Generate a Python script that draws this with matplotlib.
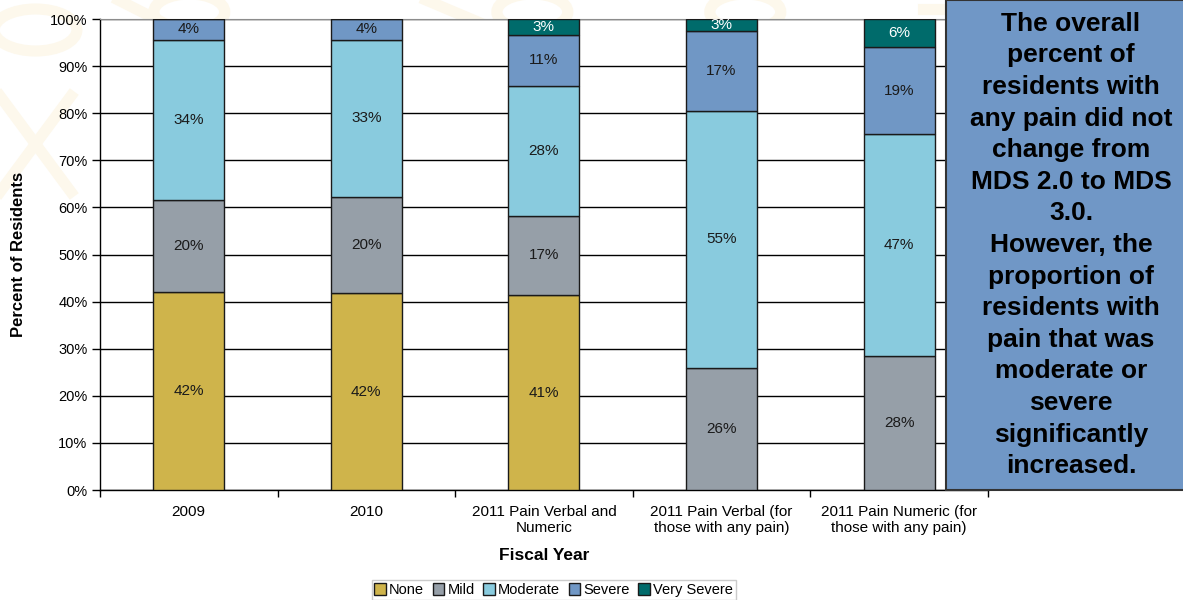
import matplotlib
matplotlib.use("Agg")
import matplotlib.pyplot as plt
from matplotlib.patches import Circle
from matplotlib.lines import Line2D
import numpy as np

plt.rcParams["font.family"] = ["Liberation Sans", "DejaVu Sans"]

categories = [
    "2009",
    "2010",
    "2011 Pain Verbal and\nNumeric",
    "2011 Pain Verbal (for\nthose with any pain)",
    "2011 Pain Numeric (for\nthose with any pain)",
]
levels = ["None", "Mild", "Moderate", "Severe", "Very Severe"]

none_pct = [42.0, 41.8, 41.4, 0.0, 0.0]
mild_pct = [19.6, 20.4, 16.8, 25.9, 28.4]
moderate_pct = [34.0, 33.4, 27.6, 54.6, 47.1]
severe_pct = [4.4, 4.4, 10.9, 16.9, 18.6]
very_severe_pct = [0.0, 0.0, 3.3, 2.6, 5.9]

colors = ["#CFB44B", "#969FA8", "#89CBDE", "#7097C5", "#006B6B"]
label_colors = ["#1a1a1a", "#1a1a1a", "#1a1a1a", "#1a1a1a", "white"]

note = ("The overall\npercent of\nresidents with\nany pain did not\nchange from\n"
        "MDS 2.0 to MDS\n3.0.\nHowever, the\nproportion of\nresidents with\n"
        "pain that was\nmoderate or\nsevere\nsignificantly\nincreased.")

series = [none_pct, mild_pct, moderate_pct, severe_pct, very_severe_pct]

fig = plt.figure(figsize=(11.83, 6.0), dpi=100)
fig.patch.set_facecolor("white")

# faint decorative pattern in the page background
wm = "#FDF8EC"
for cx, cy, r in [(0.03, 0.95, 0.035), (0.16, 0.98, 0.03), (0.45, 0.98, 0.03),
                  (0.63, 0.98, 0.03)]:
    fig.add_artist(Circle((cx, cy), r, transform=fig.transFigure, fill=False,
                          edgecolor=wm, linewidth=8, zorder=0))
for x0, y0, x1, y1 in [(0.0, 0.68, 0.06, 0.84), (0.0, 0.84, 0.06, 0.68),
                       (0.10, 1.0, 0.20, 0.90), (0.36, 1.0, 0.42, 0.95),
                       (0.84, 1.0, 0.90, 0.97), (0.78, 0.985, 0.84, 0.985)]:
    fig.add_artist(Line2D([x0, x1], [y0, y1], transform=fig.transFigure,
                          color=wm, linewidth=8, zorder=0))

ax = fig.add_axes([0.0845, 0.1833, 0.7505, 0.785])
ax.set_facecolor("white")
ax.set_zorder(1)

x = np.arange(len(categories))
bottom = np.zeros(len(categories))
for vals, col, tcol, name in zip(series, colors, label_colors, levels):
    vals = np.array(vals)
    ax.bar(x, vals, bottom=bottom, width=0.4, color=col, edgecolor="#1a1a1a",
           linewidth=1.0, label=name, zorder=3)
    for xi, v, b in zip(x, vals, bottom):
        if v > 0:
            ax.text(xi, b + v / 2, f"{v:.0f}%", ha="center", va="center",
                    fontsize=11, color=tcol, zorder=4)
    bottom += vals

ax.set_xlim(-0.5, len(categories) - 0.5)
ax.set_ylim(0, 100)
ax.set_yticks(np.arange(0, 101, 10))
ax.set_yticklabels([f"{v}%" for v in range(0, 101, 10)], fontsize=10.5)
ax.yaxis.grid(True, color="black", linewidth=1.0)
ax.set_axisbelow(True)

ax.set_xticks(x)
ax.set_xticklabels(categories, fontsize=11)
ax.set_xticks(np.arange(-0.5, len(categories)), minor=True)
ax.tick_params(axis="x", which="major", length=0, pad=11)
ax.tick_params(axis="x", which="minor", length=5, width=1, direction="out")
ax.tick_params(axis="y", length=6, width=1, direction="out", pad=3)

for side in ["left", "bottom"]:
    ax.spines[side].set_color("black")
    ax.spines[side].set_linewidth(1.0)
ax.spines["top"].set_color("#8c8c8c")
ax.spines["right"].set_visible(False)

ax.set_ylabel("Percent of Residents", fontsize=12, fontweight="bold")
ax.yaxis.set_label_coords(-74 / 888, 0.5)
ax.set_xlabel("Fiscal Year", fontsize=12.5, fontweight="bold", labelpad=9)

leg = fig.legend(loc="upper center", bbox_to_anchor=(0.468, 0.033), ncol=5,
                 fontsize=10.5, frameon=True, fancybox=False, edgecolor="#bfbfbf",
                 handlelength=0.8, handleheight=0.8, handletextpad=0.2,
                 columnspacing=0.6, borderpad=0.2, borderaxespad=0)

# annotation panel on the right
panel = fig.add_axes([946 / 1183, 1 - 490 / 600, 260 / 1183, 490 / 600])
panel.set_zorder(5)
panel.set_xlim(0, 1)
panel.set_ylim(0, 1)
panel.axis("off")
panel.add_patch(plt.Rectangle((0, 0), 1, 1, transform=panel.transAxes,
                              facecolor="#7097C6", edgecolor="#333333",
                              linewidth=1.5, clip_on=False))
panel.text(1071 / 1183, 1 - 245 / 600, note, transform=fig.transFigure,
           ha="center", va="center", fontsize=19, fontweight="bold",
           color="black", linespacing=1.40, zorder=10)

fig.savefig("out.png", dpi=100, facecolor="white")
